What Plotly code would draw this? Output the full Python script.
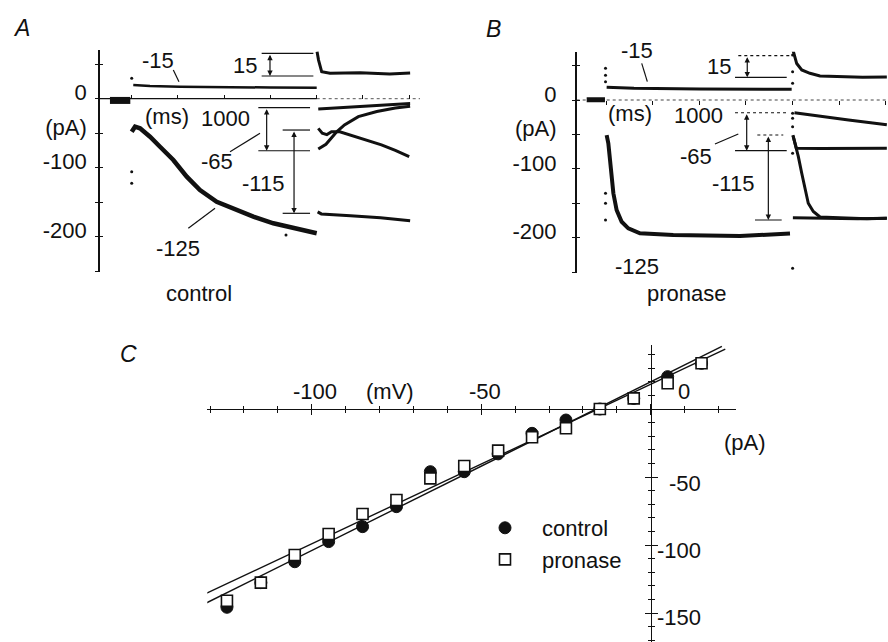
import plotly.graph_objects as go

W, H = 888, 642
FONT = "Liberation Sans, Arial, Helvetica, sans-serif"
INK = "#111111"
FS = 22

# ======================= DATA =======================
# ---- Panel A (control): time in ms, current in pA ----
a_base_t = [-235, -120, -15]
a_base_i = [-2.5, -3.0, -2.5]
a_m15_t = [17, 198, 522, 955, 1500, 2000]
a_m15_i = [19.9, 18.4, 17.4, 16.5, 16.2, 16.0]
a_m125_t = [0, 36, 90, 198, 306, 450, 595, 738, 919, 1099, 1315, 1531, 1676, 2000]
a_m125_i = [-47.8, -40.6, -42.9, -55.1, -69.6, -88.8, -113, -132.3, -149.3,
            -158.8, -171, -180.6, -185.5, -195]
a_tail1_t = [2004, 2020, 2054, 2144, 2470, 2790, 3010]
a_tail1_i = [68, 56, 39, 37, 37.7, 35.8, 37.2]
a_tail2_t = [2017, 2250, 2470, 2790, 3010]
a_tail2_i = [-15, -13, -10.6, -8.5, -7]
a_tail3_t = [2017, 2100, 2216, 2300, 2450, 2650, 2850, 3010]
a_tail3_i = [-73, -66, -48, -38, -26, -18.5, -13.5, -11]
a_tail4_t = [2017, 2060, 2110, 2160, 2250, 2400, 2540, 2700, 2850, 3000]
a_tail4_i = [-43, -50, -52, -48, -48, -54, -60, -67, -75, -84]
a_tail5_t = [2010, 2050, 2365, 2690, 3010]
a_tail5_i = [-164, -167, -169.6, -172.5, -177]
a_dots_t = [0, 0, 0, 1668]
a_dots_i = [29.6, -105.8, -122.6, -197.5]

# ---- Panel B (pronase) ----
b_base_t = [-207, -100, -11]
b_base_i = [0.5, 0.0, 0.5]
b_m15_t = [7, 300, 1000, 1990]
b_m15_i = [18.5, 17.0, 16.0, 15.5]
b_m125_t = [7, 25, 43, 61, 79, 114, 168, 239, 364, 721, 1436, 1972]
b_m125_i = [-51, -63, -87, -111.5, -135.6, -160, -177, -186.5, -193.8, -196.2, -197.7, -194]
b_tail1_t = [2005, 2044, 2098, 2186, 2294, 2500, 2750, 3010]
b_tail1_i = [72, 53, 43.6, 38.8, 35, 34, 33, 33.5]
b_tail2_t = [2020, 2300, 2600, 3010]
b_tail2_i = [-18.4, -23, -29, -36]
b_tail3_t = [2003, 2040, 2300, 2700, 3010]
b_tail3_i = [-51, -70, -70.5, -70, -70]
b_tail4_t = [2005, 2061, 2098, 2133, 2168, 2222, 2294, 2500, 2800, 3010]
b_tail4_i = [-52, -82, -106.5, -131, -150, -162, -170, -171, -172.5, -172]
b_tail5_t = [2003, 2300, 2700, 3010]
b_tail5_i = [-171, -172, -172.5, -172]
b_dots_t = [-5, -5, -5, -5, -5, -5, 2000, 2000, 2000, 2000, 2000, 2000, 2000, 2000, 2000, 2000]
b_dots_i = [46, 36, 26.6, -135.6, -150, -174.4, 92, 77.5, 65.4, 41.1, 24.3,
            -19.4, -26.6, -38.8, -77.5, -244.6]

time_ticks = [0, 500, 1000, 1500, 2000, 2500, 3000]
cur_ticks = [-250, -200, -150, -100, -50, 0, 50]
cur_ticktext = ["", "-200", "", "-100", "(pA)", "0", ""]

# ---- Panel C: I-V relation, mV vs pA ----
v_mv = [-125, -115, -105, -95, -85, -75, -65, -55, -45, -35, -25, -15, -5, 5, 15]
i_control = [-145.8, -127.7, -112.3, -97.5, -86.5, -71.8, -46.1, -46.1, -33.0,
             -17.9, -8.1, 0.0, 7.8, 23.8, 33.6]
i_pronase = [-141.0, -127.7, -107.4, -91.9, -77.2, -66.9, -51.0, -41.9, -30.6,
             -20.8, -14.2, 0.0, 7.8, 18.9, 33.6]
fit_control_v = [-131, 21]
fit_control_i = [-142.5, 46.0]
fit_pronase_v = [-131, 22]
fit_pronase_i = [-135.5, 44.0]

# ======================= GEOMETRY (pixels of the 888x642 page) =======================
def fx(px):
    return px / W

def fy(py):
    return 1 - py / H

# calibration: zero pixel and px per unit
A = dict(x0=131.7, kx=0.0925, y0=98.7, ky=0.69, dx=(100, 420), dy=(50, 272))
B = dict(x0=606.0, kx=0.0933, y0=100.0, ky=0.688, dx=(576.7, 888), dy=(51.7, 273))
C = dict(x0=650.7, kx=3.39, y0=409.0, ky=1.36, dx=(207.3, 735.5), dy=(345, 642))

def xr(p):
    return [(p["dx"][0] - p["x0"]) / p["kx"], (p["dx"][1] - p["x0"]) / p["kx"]]

def yr(p):
    return [(p["y0"] - p["dy"][1]) / p["ky"], (p["y0"] - p["dy"][0]) / p["ky"]]

def xdom(p):
    return [fx(p["dx"][0]), fx(p["dx"][1])]

def ydom(p):
    return [fy(p["dy"][1]), fy(p["dy"][0])]

fig = go.Figure()

def line(x, y, xa, ya, width=3, dash="solid", color=INK):
    fig.add_trace(go.Scatter(x=x, y=y, mode="lines", xaxis=xa, yaxis=ya,
                             line=dict(color=color, width=width, dash=dash),
                             showlegend=False, hoverinfo="skip"))

def dots(x, y, xa, ya):
    fig.add_trace(go.Scatter(x=x, y=y, mode="markers", xaxis=xa, yaxis=ya,
                             marker=dict(color=INK, size=3), showlegend=False,
                             hoverinfo="skip"))

# ---- Panel A traces ----
A_end = xr(A)[1]
line([xr(A)[0], 2000], [0, 0], "x", "y", width=1.2)
line([2000, A_end], [0, 0], "x", "y", width=1, dash="dot", color="#555")
line(a_base_t, a_base_i, "x", "y", width=7)
line(a_m15_t, a_m15_i, "x", "y", width=2.5)
line(a_m125_t, a_m125_i, "x", "y", width=4.5)
for tt, ii in [(a_tail1_t, a_tail1_i), (a_tail2_t, a_tail2_i), (a_tail3_t, a_tail3_i),
               (a_tail4_t, a_tail4_i), (a_tail5_t, a_tail5_i)]:
    line(tt, ii, "x", "y", width=3)
dots(a_dots_t, a_dots_i, "x", "y")
fig.add_trace(go.Scatter(x=[], y=[], xaxis="x", yaxis="y2", showlegend=False))

# ---- Panel B traces ----
line(xr(B), [0, 0], "x3", "y3", width=1, dash="dot", color="#444")
line(b_base_t, b_base_i, "x3", "y3", width=5)
line(b_m15_t, b_m15_i, "x3", "y3", width=3)
line(b_m125_t, b_m125_i, "x3", "y3", width=4)
for tt, ii in [(b_tail1_t, b_tail1_i), (b_tail2_t, b_tail2_i), (b_tail3_t, b_tail3_i),
               (b_tail4_t, b_tail4_i), (b_tail5_t, b_tail5_i)]:
    line(tt, ii, "x3", "y3", width=3)
dots(b_dots_t, b_dots_i, "x3", "y3")
fig.add_trace(go.Scatter(x=[], y=[], xaxis="x3", yaxis="y4", showlegend=False))

# ---- Panel C traces ----
line(fit_pronase_v, fit_pronase_i, "x5", "y5", width=1.4)
line(fit_control_v, fit_control_i, "x5", "y5", width=1.4)
fig.add_trace(go.Scatter(x=v_mv, y=i_control, mode="markers", name="control",
                         xaxis="x5", yaxis="y5",
                         marker=dict(symbol="circle", size=12, color=INK,
                                     line=dict(color=INK, width=1))))
fig.add_trace(go.Scatter(x=v_mv, y=i_pronase, mode="markers", name="pronase",
                         xaxis="x5", yaxis="y5",
                         marker=dict(symbol="square", size=11, color="white",
                                     line=dict(color=INK, width=1.6))))
fig.add_trace(go.Scatter(x=[], y=[], xaxis="x6", yaxis="y6", showlegend=False))

# ======================= AXES =======================
tickfont = dict(family=FONT, size=FS, color=INK)

def time_axis(p, ticks):
    return dict(domain=xdom(p), range=xr(p), anchor="free", position=fy(p["y0"]),
                showline=False, showgrid=False, zeroline=False, ticks=ticks,
                ticklen=4, tickwidth=1, tickcolor=INK, tickvals=time_ticks,
                showticklabels=False, automargin=False)

def cur_axis(p, xa, standoff):
    return dict(domain=ydom(p), range=yr(p), anchor=xa, showline=True, linewidth=1.5,
                linecolor=INK, showgrid=False, zeroline=False, ticks="outside",
                ticklen=3, tickwidth=1.2, tickcolor=INK, tickvals=cur_ticks,
                ticktext=cur_ticktext, tickfont=tickfont, ticklabelstandoff=standoff,
                ticklabelshift=-6, automargin=False)

def cur_overlay(p, xa, yo):
    return dict(range=yr(p), anchor=xa, overlaying=yo, showline=False, showgrid=False,
                zeroline=False, ticks="inside", ticklen=3, tickwidth=1.2, tickcolor=INK,
                tickvals=cur_ticks, showticklabels=False, automargin=False)

layout = dict(
    width=W, height=H, margin=dict(l=0, r=0, t=0, b=0), template="none",
    paper_bgcolor="white", plot_bgcolor="rgba(0,0,0,0)",
    font=dict(family=FONT, size=FS, color=INK),
    xaxis=time_axis(A, "inside"),
    yaxis=cur_axis(A, "x", 4),
    yaxis2=cur_overlay(A, "x", "y"),
    xaxis3=time_axis(B, "outside"),
    yaxis3=cur_axis(B, "x3", 11),
    yaxis4=cur_overlay(B, "x3", "y3"),
    xaxis5=dict(domain=xdom(C), range=xr(C), anchor="free", position=fy(C["y0"]),
                showline=True, linewidth=1.2, linecolor=INK, showgrid=False, zeroline=False,
                ticks="outside", ticklen=5, tickwidth=1.2, tickcolor=INK, dtick=50, tick0=0,
                minor=dict(ticks="outside", ticklen=3, tickwidth=1, tickcolor=INK, dtick=10,
                           tick0=0, showgrid=False),
                showticklabels=False, automargin=False),
    xaxis6=dict(range=xr(C), anchor="free", position=fy(C["y0"]), overlaying="x5",
                showline=False, showgrid=False, zeroline=False,
                ticks="inside", ticklen=5, tickwidth=1.2, tickcolor=INK, dtick=50, tick0=0,
                minor=dict(ticks="inside", ticklen=3, tickwidth=1, tickcolor=INK, dtick=10,
                           tick0=0, showgrid=False),
                showticklabels=False, automargin=False),
    yaxis5=dict(domain=ydom(C), range=yr(C), anchor="free", position=fx(C["x0"]),
                showline=True, linewidth=1.2, linecolor=INK, showgrid=False, zeroline=False,
                ticks="outside", ticklen=6, tickwidth=1.2, tickcolor=INK, dtick=50, tick0=0,
                minor=dict(ticks="outside", ticklen=3, tickwidth=1, tickcolor=INK, dtick=10,
                           tick0=0, showgrid=False),
                showticklabels=False, automargin=False),
    yaxis6=dict(range=yr(C), anchor="free", position=fx(C["x0"]), overlaying="y5",
                showline=False, showgrid=False, zeroline=False,
                ticks="inside", ticklen=6, tickwidth=1.2, tickcolor=INK, dtick=50, tick0=0,
                minor=dict(ticks="inside", ticklen=3, tickwidth=1, tickcolor=INK, dtick=10,
                           tick0=0, showgrid=False),
                showticklabels=False, automargin=False),
    showlegend=True,
    legend=dict(x=fx(468), y=fy(507), xanchor="left", yanchor="top",
                bgcolor="rgba(0,0,0,0)", font=dict(family=FONT, size=FS, color=INK),
                itemwidth=64, tracegroupgap=0),
)
fig.update_layout(**layout)

# ======================= ANNOTATIONS =======================
ann = []
shapes = []

def text(t, x, y, xr_, yr_, size=FS, italic=False, xanchor="center", yshift=0):
    ann.append(dict(text=("<i>%s</i>" % t) if italic else t, x=x, y=y, xref=xr_, yref=yr_,
                    showarrow=False, xanchor=xanchor, yanchor="middle", yshift=yshift,
                    font=dict(family=FONT, size=size, color=INK)))

def hline(x0, x1, y, xa, ya, dash="solid"):
    shapes.append(dict(type="line", x0=x0, x1=x1, y0=y, y1=y, xref=xa, yref=ya,
                       line=dict(color=INK, width=1.2, dash=dash)))

def seg(x0, y0, x1, y1, xa, ya):
    shapes.append(dict(type="line", x0=x0, x1=x1, y0=y0, y1=y1, xref=xa, yref=ya,
                       line=dict(color=INK, width=1.2)))

def darrow(x, y0, y1, xa, ya):
    ann.append(dict(x=x, y=y1, ax=x, ay=y0, xref=xa, yref=ya, axref=xa, ayref=ya,
                    text="", showarrow=True, arrowside="end+start", arrowhead=2,
                    arrowsize=0.9, arrowwidth=1.2, arrowcolor=INK, standoff=0,
                    startstandoff=0))

# Panel A labels
for t, x, y in [("-15", 288, 56), ("15", 1225, 48.8), ("(ms)", 378, -26),
                ("1000", 1009, -28), ("-65", 919, -91.3), ("-115", 1423, -122.6),
                ("-125", 504, -216.8)]:
    text(t, x, y, "x", "y")
for x0, x1, y in [(1405, 1964, 65.8), (1405, 1964, 32.9), (1369, 1928, -13),
                  (1369, 1928, -75.4), (1632, 1928, -45.4), (1632, 1928, -166.1)]:
    hline(x0, x1, y, "x", "y")
for x, y0, y1 in [(1495, 65.8, 32.9), (1459, -13, -75.4), (1755, -45.4, -166.1)]:
    darrow(x, y0, y1, "x", "y")
for x0, y0, x1, y1 in [(450, 41.6, 511, 24.6), (1063, -76.8, 1387, -50.1),
                       (612, -187.8, 901, -158.8)]:
    seg(x0, y0, x1, y1, "x", "y")

# Panel B labels
text("-15", 329, 65, "x3", "y3", yshift=5)
for t, x, y in [("15", 1215, 48.4), ("(ms)", 257, -19.3), ("1000", 989, -21.8),
                ("-65", 965, -82.4), ("-115", 1358, -122), ("-125", 329, -242.3)]:
    text(t, x, y, "x3", "y3")
for x0, x1, y, d in [(1418, 1972, 64.4, "dot"), (1383, 1937, 33, "solid"),
                     (1383, 1937, -18.5, "dot"), (1383, 1937, -73.7, "solid"),
                     (1622, 1900, -50.9, "dot"), (1597, 1883, -174.4, "solid")]:
    hline(x0, x1, y, "x3", "y3", dash=d)
for x, y0, y1 in [(1514, 64.4, 33), (1508, -18.5, -73.7), (1740, -50.9, -174.4)]:
    darrow(x, y0, y1, "x3", "y3")
for x0, y0, x1, y1 in [(383, 53.3, 443, 26.6), (1168, -64, 1418, -49.4)]:
    seg(x0, y0, x1, y1, "x3", "y3")

# Panel C axis labels
for t, x, y in [("-100", -99, 12.7), ("(mV)", -76.9, 12.7), ("-50", -48.9, 12.7),
                ("0", 9.9, 12.7)]:
    text(t, x, y, "x5", "y5")
text("(pA)", 20.9, -24.3, "x5", "y5", xanchor="left")
for t, y in [("-50", -54.6), ("-100", -104.2), ("-150", -153.5)]:
    text(t, 15.5, y, "x5", "y5", xanchor="right")

# panel letters & captions (paper)
text("A", fx(21), fy(27.5), "paper", "paper", size=23, italic=True)
text("B", fx(493), fy(29), "paper", "paper", size=23, italic=True)
text("C", fx(128), fy(354), "paper", "paper", size=23, italic=True)
text("control", fx(199), fy(293), "paper", "paper")
text("pronase", fx(687), fy(294), "paper", "paper")

fig.update_layout(annotations=ann, shapes=shapes)
fig.write_html("out.html", config={"displayModeBar": False},
               post_script="document.body.style.margin='0px';"
                           "document.body.style.overflow='hidden';")
